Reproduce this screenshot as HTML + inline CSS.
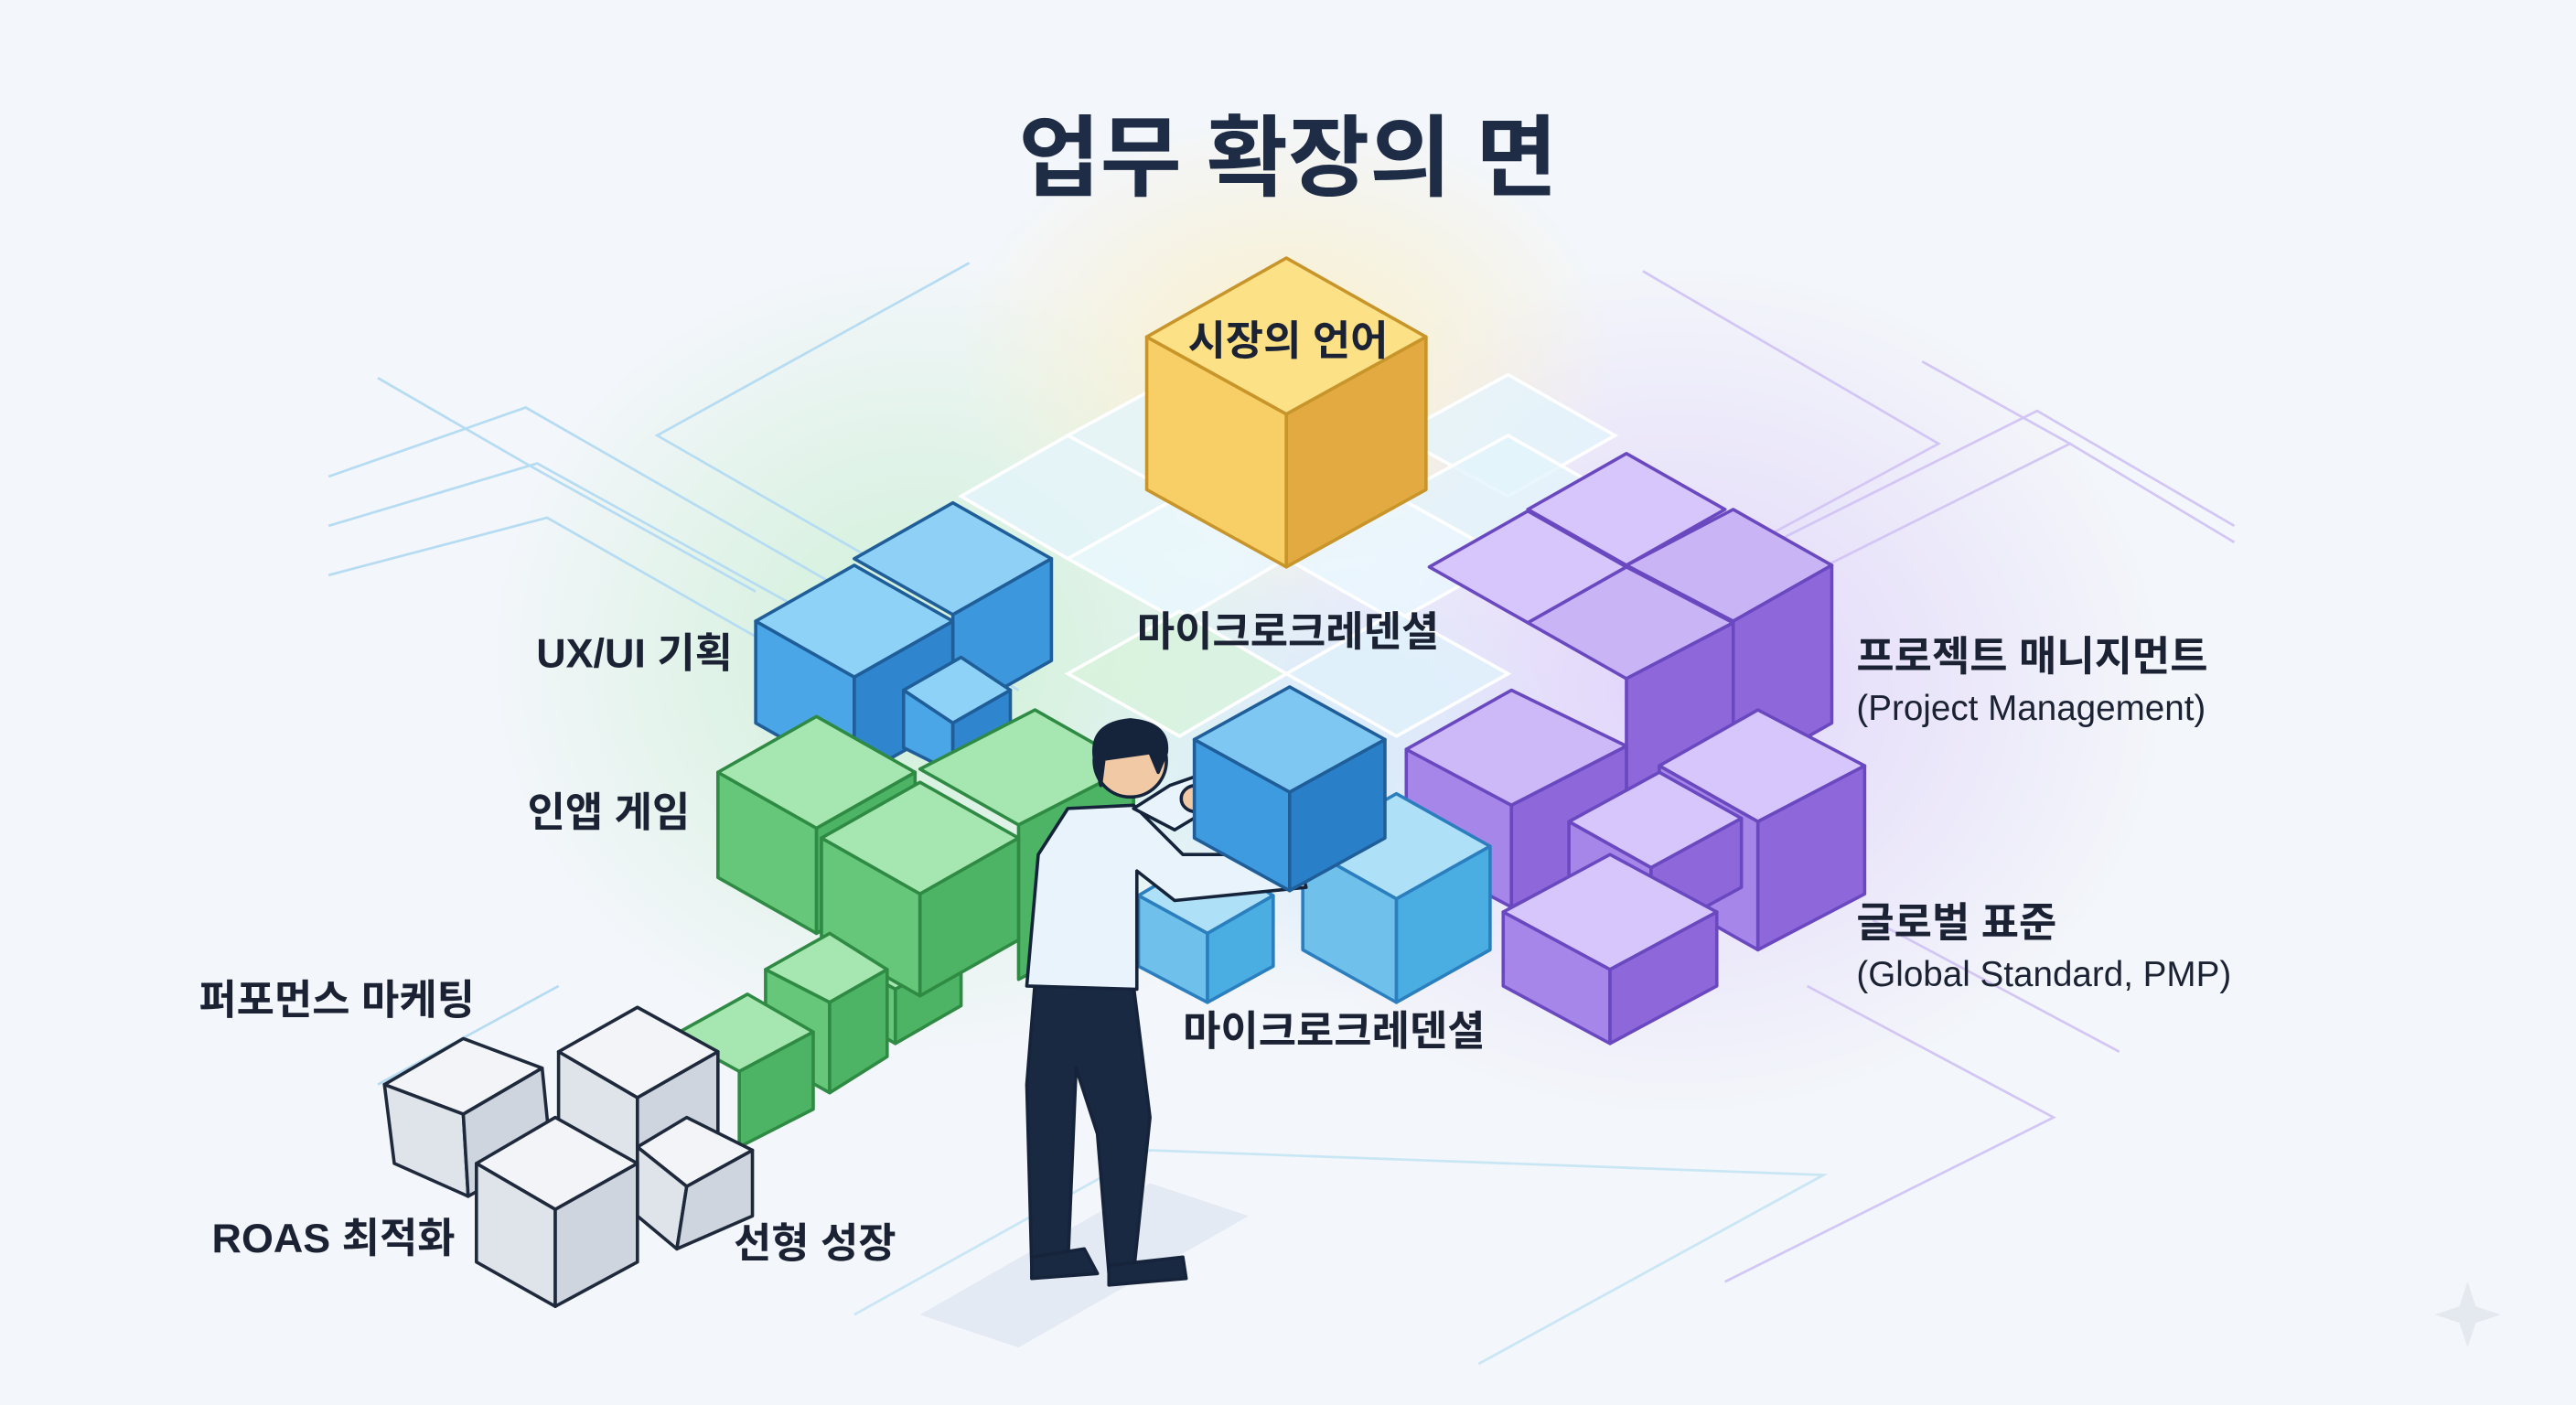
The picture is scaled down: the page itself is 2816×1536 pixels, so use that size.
<!DOCTYPE html>
<html><head><meta charset="utf-8"><style>
html,body{margin:0;padding:0;width:2816px;height:1536px;overflow:hidden;background:#f3f6fa}
svg{display:block}
text{font-family:"Liberation Sans","Noto Sans CJK KR",sans-serif;fill:#1b2233}
.b{font-weight:bold}
</style></head><body>
<svg width="2816" height="1536" viewBox="0 0 1568 855" preserveAspectRatio="none" xmlns="http://www.w3.org/2000/svg">
<defs>
<radialGradient id="gg" cx="0.5" cy="0.5" r="0.5"><stop offset="0" stop-color="#c9efd2" stop-opacity="0.9"/><stop offset="1" stop-color="#c9efd2" stop-opacity="0"/></radialGradient>
<radialGradient id="gp" cx="0.5" cy="0.5" r="0.5"><stop offset="0" stop-color="#e0d3fb" stop-opacity="0.95"/><stop offset="1" stop-color="#e0d3fb" stop-opacity="0"/></radialGradient>
<radialGradient id="gy" cx="0.5" cy="0.5" r="0.5"><stop offset="0" stop-color="#fbefc4" stop-opacity="0.9"/><stop offset="1" stop-color="#fbefc4" stop-opacity="0"/></radialGradient>
<radialGradient id="gb" cx="0.5" cy="0.5" r="0.5"><stop offset="0" stop-color="#d3ecfa" stop-opacity="0.9"/><stop offset="1" stop-color="#d3ecfa" stop-opacity="0"/></radialGradient>
</defs>
<rect width="1568" height="855" fill="#f3f6fa"/>
<ellipse cx="560" cy="400" rx="260" ry="240" fill="url(#gg)"/>
<ellipse cx="1020" cy="420" rx="300" ry="260" fill="url(#gp)"/>
<ellipse cx="783" cy="220" rx="200" ry="150" fill="url(#gy)"/>
<ellipse cx="800" cy="470" rx="160" ry="140" fill="url(#gb)"/>
<g fill="none" stroke="#b5dcf2" stroke-width="1.5">
<polyline points="230,230 320,282 460,360"/><polyline points="200,290 320,248 620,420"/><polyline points="200,320 327,282 640,455"/><polyline points="200,350 333,315 640,490"/>
<polyline points="590,160 400,265 600,380"/>
<polyline points="230,660 340,600"/>
</g>
<g fill="none" stroke="#d3c6f5" stroke-width="1.5">
<polyline points="1000,165 1180,270 1050,340"/><polyline points="1060,340 1240,250 1360,320"/><polyline points="1080,360 1260,270 1360,330"/><polyline points="1170,220 1260,270"/>
<polyline points="1100,600 1250,680 1050,780"/><polyline points="1140,560 1290,640"/>
</g>
<g fill="none" stroke="#c9e6f5" stroke-width="1.5"><polyline points="520,800 700,700 1110,715 900,830"/></g>
<g fill="#e4f4fb" fill-opacity="0.8" stroke="#ffffff" stroke-width="2">
<polygon points="650,265 718,228 783,265 718,302"/>
<polygon points="850,265 918,228 983,265 918,302"/>
<polygon points="585,302 650,265 718,302 650,340"/>
<polygon points="718,302 783,265 850,302 783,340"/>
<polygon points="850,302 918,265 983,302 918,340"/>
<polygon points="650,340 718,302 783,340 718,378" fill="#eaf7ff"/>
<polygon points="783,340 850,302 918,340 850,378" fill="#eaf7ff"/>
<polygon points="650,410 718,372 783,410 718,448" fill="#d8f2dc"/>
<polygon points="783,410 850,372 918,410 850,448" fill="#e0f1fb"/>
</g>
<g stroke="#c8952a" stroke-width="2" stroke-linejoin="round">
<polygon points="698,205 783,252 783,345 698,298" fill="#f7cf66"/>
<polygon points="783,252 868,205 868,298 783,345" fill="#e2aa40"/>
<polygon points="783,157 868,205 783,252 698,205" fill="#fde187"/>
</g>
<g stroke="#1f5e98" stroke-width="2" stroke-linejoin="round">
<polygon points="520,340 580,306 640,340 580,374" fill="#8fd0f6"/>
<polygon points="580,374 640,340 640,402 580,436" fill="#3d97dc"/>
<polygon points="460,378 520,412 520,474 460,440" fill="#4aa6e6"/>
<polygon points="520,412 580,378 580,440 520,474" fill="#2f86cf"/>
<polygon points="520,344 580,378 520,412 460,378" fill="#8ed2f8"/>
<polygon points="550,420 585,400 615,420 580,440" fill="#8ed2f8"/>
<polygon points="550,420 580,440 580,470 550,455" fill="#4aa6e6"/>
<polygon points="580,440 615,420 615,455 580,470" fill="#2f86cf"/>
</g>
<g stroke="#2f8a44" stroke-width="2" stroke-linejoin="round">
<polygon points="560,468 630,432 690,466 620,502" fill="#a6e6b0"/>
<polygon points="620,502 690,466 690,560 620,596" fill="#4cb464"/>
<polygon points="437,470 497,504 497,568 437,534" fill="#66c67a"/>
<polygon points="497,504 557,470 557,534 497,568" fill="#4cb464"/>
<polygon points="497,436 557,470 497,504 437,470" fill="#a6e6b0"/>
<polygon points="505,580 545,558 585,580 545,602" fill="#a6e6b0"/>
<polygon points="505,580 545,602 545,635 505,612" fill="#66c67a"/>
<polygon points="545,602 585,580 585,612 545,635" fill="#4cb464"/>
<polygon points="500,510 560,476 620,510 560,544" fill="#a6e6b0"/>
<polygon points="500,510 560,544 560,606 500,572" fill="#66c67a"/>
<polygon points="560,544 620,510 620,572 560,606" fill="#4cb464"/>
<polygon points="466,590 505,568 540,590 505,610" fill="#a6e6b0"/>
<polygon points="466,590 505,610 505,665 466,643" fill="#66c67a"/>
<polygon points="505,610 540,590 540,643 505,665" fill="#4cb464"/>
<polygon points="410,630 455,605 495,628 450,652" fill="#a6e6b0"/>
<polygon points="450,652 495,628 495,675 450,698" fill="#4cb464"/>
</g>
<g stroke="#1e2a3c" stroke-width="2" stroke-linejoin="round">
<polygon points="234,660 282,632 330,650 282,678" fill="#f2f4f7"/>
<polygon points="234,660 282,678 285,728 240,708" fill="#dfe3ea"/>
<polygon points="282,678 330,650 335,700 285,728" fill="#cfd5de"/>
<polygon points="340,640 388,613 437,640 388,668" fill="#f2f4f7"/>
<polygon points="340,640 388,668 388,718 340,690" fill="#dfe3ea"/>
<polygon points="388,668 437,640 437,690 388,718" fill="#cfd5de"/>
<polygon points="388,698 418,680 458,700 418,722" fill="#f2f4f7"/>
<polygon points="388,698 418,722 412,760 388,740" fill="#dfe3ea"/>
<polygon points="418,722 458,700 458,740 412,760" fill="#cfd5de"/>
<polygon points="290,708 338,680 388,708 338,736" fill="#f2f4f7"/>
<polygon points="290,708 338,736 338,795 290,768" fill="#dfe3ea"/>
<polygon points="338,736 388,708 388,768 338,795" fill="#cfd5de"/>
</g>
<g stroke="#6a48c0" stroke-width="2" stroke-linejoin="round">
<polygon points="930,310 990,276 1050,310 990,344" fill="#d6c6fb"/>
<polygon points="990,344 1055,310 1115,344 1055,378" fill="#c9b5f6"/>
<polygon points="1055,378 1115,344 1115,440 1055,474" fill="#8e67db"/>
<polygon points="870,345 930,311 990,345 930,379" fill="#d6c6fb"/>
<polygon points="930,379 990,345 1055,379 990,413" fill="#c9b5f6"/>
<polygon points="990,413 1055,379 1055,460 990,494" fill="#8e67db"/>
<polygon points="856,456 920,490 920,552 856,518" fill="#a786ea"/>
<polygon points="920,490 990,454 990,516 920,552" fill="#8e67db"/>
<polygon points="920,420 990,454 920,490 856,456" fill="#cdb9f8"/>
<polygon points="1010,466 1070,432 1135,466 1070,500" fill="#d6c6fb"/>
<polygon points="1070,500 1135,466 1135,544 1070,578" fill="#8e67db"/>
<polygon points="1010,466 1070,500 1070,578 1010,544" fill="#a786ea"/>
<polygon points="955,500 1010,470 1060,498 1005,528" fill="#d6c6fb"/>
<polygon points="955,500 1005,528 1005,570 955,545" fill="#a786ea"/>
<polygon points="1005,528 1060,498 1060,540 1005,570" fill="#8e67db"/>
<polygon points="915,555 980,520 1045,555 980,590" fill="#d6c6fb"/>
<polygon points="915,555 980,590 980,635 915,600" fill="#a786ea"/>
<polygon points="980,590 1045,555 1045,600 980,635" fill="#8e67db"/>
</g>
<g stroke="#2b7fbf" stroke-width="2" stroke-linejoin="round">
<polygon points="793,515 850,483 907,515 850,547" fill="#aee0f8"/>
<polygon points="793,515 850,547 850,610 793,578" fill="#6fc0eb"/>
<polygon points="850,547 907,515 907,578 850,610" fill="#4aaee3"/>
<polygon points="693,545 735,520 775,545 735,568" fill="#aee0f8"/>
<polygon points="693,545 735,568 735,610 693,588" fill="#6fc0eb"/>
<polygon points="735,568 775,545 775,588 735,610" fill="#4aaee3"/>
</g>
<polygon points="560,800 700,720 760,740 620,820" fill="#dde6ef" opacity="0.7"/>
<g stroke="#15233b" stroke-width="2" stroke-linejoin="round">
<polygon points="630,598 690,600 700,680 690,775 675,775 668,690 655,650 650,770 628,770 625,660" fill="#1a2942"/>
<path d="M675 770 L720 765 L722 778 L675 782 Z" fill="#1a2942"/>
<path d="M628 765 L660 760 L668 775 L628 778 Z" fill="#1a2942"/>
<path d="M650 492 L690 490 L720 520 L790 520 L795 540 L715 548 L692 530 L692 602 L625 600 L632 520 Z" fill="#e8f3fb"/>
<path d="M690 492 L712 478 L735 470 L740 490 L715 505 Z" fill="#e8f3fb"/>
<circle cx="688" cy="463" r="22" fill="#f1c9a5"/>
<path d="M666 460 Q664 440 688 438 Q712 440 710 458 L705 470 L700 458 L672 462 L670 478 Z" fill="#15233b"/>
<ellipse cx="728" cy="486" rx="9" ry="8" fill="#f1c9a5"/>
<ellipse cx="796" cy="522" rx="10" ry="9" fill="#f1c9a5"/>
</g>
<g stroke="#1f5e98" stroke-width="2" stroke-linejoin="round">
<polygon points="727,450 785,482 785,542 727,510" fill="#3f9be0"/>
<polygon points="785,482 843,450 843,510 785,542" fill="#2a80c8"/>
<polygon points="785,418 843,450 785,482 727,450" fill="#7fc7f3"/>
</g>
<text x="784" y="115" text-anchor="middle" class="b" font-size="54" style="fill:#1e2c46">업무 확장의 면</text>
<text x="784" y="216" text-anchor="middle" class="b" font-size="25">시장의 언어</text>
<text x="784" y="393" text-anchor="middle" class="b" font-size="25">마이크로크레덴셜</text>
<text x="812" y="636" text-anchor="middle" class="b" font-size="25">마이크로크레덴셜</text>
<text x="446" y="406" text-anchor="end" class="b" font-size="25">UX/UI 기획</text>
<text x="420" y="503" text-anchor="end" class="b" font-size="25">인앱 게임</text>
<text x="205" y="617" text-anchor="middle" class="b" font-size="25">퍼포먼스 마케팅</text>
<text x="203" y="762" text-anchor="middle" class="b" font-size="25">ROAS 최적화</text>
<text x="496" y="765" text-anchor="middle" class="b" font-size="25">선형 성장</text>
<text x="1130" y="408" class="b" font-size="25">프로젝트 매니지먼트</text>
<text x="1130" y="438" font-size="21.5">(Project Management)</text>
<text x="1130" y="570" class="b" font-size="25">글로벌 표준</text>
<text x="1130" y="600" font-size="21.5">(Global Standard, PMP)</text>
<path d="M1502 780 L1507 795 L1522 800 L1507 805 L1502 820 L1497 805 L1482 800 L1497 795 Z" fill="#e4e9f0"/>
</svg>
</body></html>
